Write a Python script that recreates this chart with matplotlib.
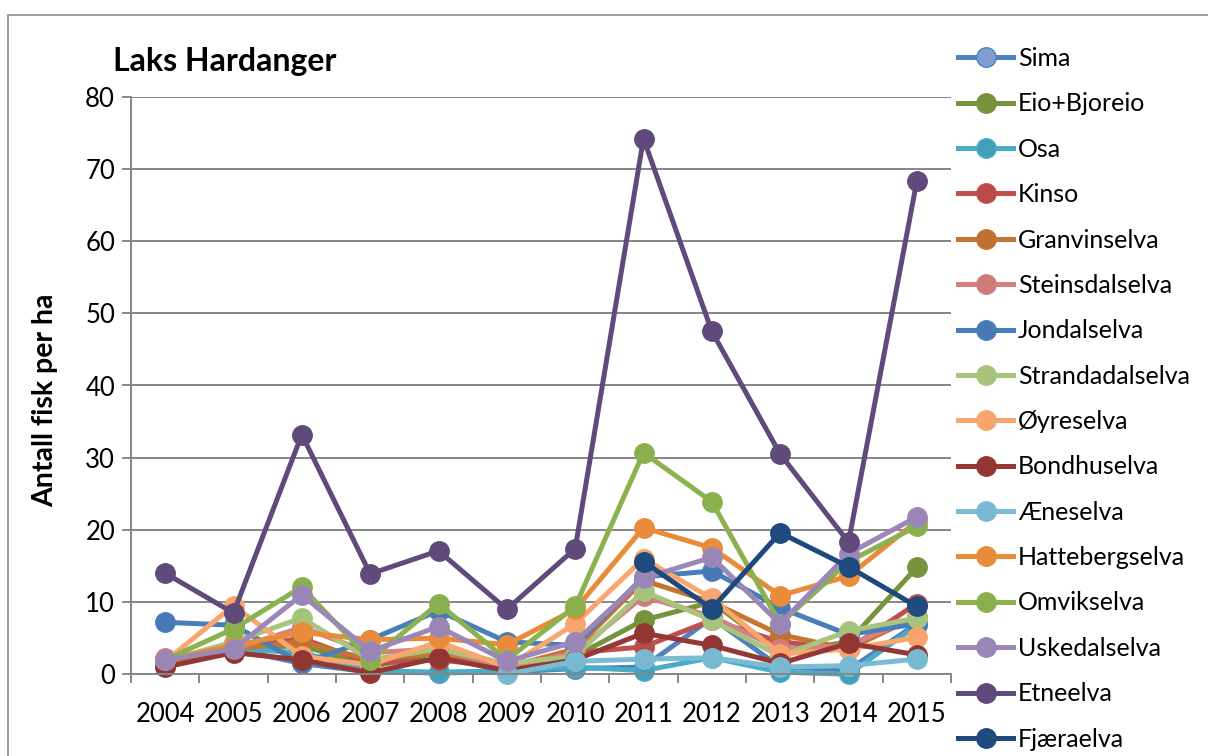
import numpy as np
import matplotlib.pyplot as plt
from matplotlib.patches import Rectangle

plt.rcParams['font.family'] = ['Lato', 'DejaVu Sans']

years = ['2004', '2005', '2006', '2007', '2008', '2009', '2010', '2011', '2012', '2013', '2014', '2015']
nan = np.nan

# Antall fisk per ha, lest av figuren
sima = [2.0, 3.5, 1.5, 0.3, 0.2, 0.3, 0.8, 1.0, 7.8, 1.0, 0.6, 7.0]
eio = [1.5, 3.5, 4.0, 1.0, 3.0, 1.0, 2.5, 7.5, 10.0, 3.0, 4.5, 14.8]
osa = [1.5, 3.5, 3.0, 0.5, 0.3, 0.5, 1.0, 0.5, 2.3, 0.3, 0.0, 6.8]
kinso = [1.2, 3.5, 5.0, 1.5, 2.0, 1.0, 3.0, 3.8, 7.5, 4.5, 3.5, 9.8]
granvin = [1.5, 3.5, 4.5, 2.0, 3.0, 1.0, 3.5, 13.0, 10.0, 5.5, 3.5, 8.0]
steinsdal = [2.3, 3.5, 6.5, 3.0, 3.5, 1.0, 3.0, 10.8, 8.0, 3.5, 4.0, 8.0]
jondal = [7.2, 6.8, 1.5, 4.8, 8.8, 4.5, 4.0, 13.5, 14.3, 9.2, 5.5, 7.0]
strandadal = [1.8, 4.5, 7.8, 2.0, 3.5, 1.5, 2.5, 11.5, 7.5, 2.5, 6.0, 7.8]
oyre = [1.8, 9.5, 2.5, 1.3, 4.5, 1.0, 7.0, 16.0, 10.5, 2.8, 3.5, 5.1]
bondhus = [1.0, 3.0, 2.0, 0.2, 2.3, 0.5, 2.0, 5.7, 4.0, 1.5, 4.3, 2.7]
aene = [nan, nan, nan, nan, nan, 0.0, 1.8, 2.1, 2.3, 1.0, 1.2, 2.1]
hatteberg = [2.0, 4.0, 5.8, 4.8, 5.0, 4.1, 9.0, 20.3, 17.5, 10.9, 13.6, 21.2]
omvik = [2.0, 6.3, 12.1, 2.0, 9.8, 2.0, 9.4, 30.7, 23.9, 7.0, 15.6, 20.5]
usked = [2.0, 3.5, 11.0, 3.2, 6.6, 1.8, 4.5, 13.3, 16.2, 7.0, 16.7, 21.8]
etne = [14.0, 8.5, 33.2, 13.9, 17.1, 9.0, 17.4, 74.2, 47.5, 30.5, 18.3, 68.3]
fjaera = [nan, nan, nan, nan, nan, nan, nan, 15.6, 9.1, 19.6, 14.9, 9.4]

serier = [
    ('Sima', sima, '#4F81BD', '#7F9FD0'),
    ('Eio+Bjoreio', eio, '#77933C', '#77933C'),
    ('Osa', osa, '#4BACC6', '#41A0B9'),
    ('Kinso', kinso, '#C0504D', '#B84A47'),
    ('Granvinselva', granvin, '#C47531', '#C07030'),
    ('Steinsdalselva', steinsdal, '#D48180', '#CF7B7A'),
    ('Jondalselva', jondal, '#4A7EBB', '#4679B5'),
    ('Strandadalselva', strandadal, '#A9C47F', '#A6C37C'),
    ('Øyreselva', oyre, '#F9A66F', '#F8A46D'),
    ('Bondhuselva', bondhus, '#953735', '#923634'),
    ('Æneselva', aene, '#7BBBD3', '#78B9D1'),
    ('Hattebergselva', hatteberg, '#E98C3A', '#E88B3A'),
    ('Omvikselva', omvik, '#8CB24F', '#8AB04D'),
    ('Uskedalselva', usked, '#9C88B8', '#9A86B6'),
    ('Etneelva', etne, '#604A7B', '#5F4A7B'),
    ('Fjæraelva', fjaera, '#1F497D', '#204B80'),
]

fig = plt.figure(figsize=(12.08, 7.56), dpi=100)
ax = fig.add_axes([131 / 1208, 1 - 674.3 / 756, 820 / 1208, 577.6 / 756])

x = np.arange(len(years))
for navn, verdier, farge, markfarge in serier:
    ax.plot(x, verdier, '-o', color=farge, lw=3.6, markersize=14,
            markerfacecolor=markfarge, markeredgecolor=farge, markeredgewidth=1,
            label=navn, clip_on=False)

ax.set_ylim(0, 80)
ax.set_xlim(-0.5, len(years) - 0.5)
ax.set_yticks(range(0, 81, 10))
ax.set_xticks(x)
ax.set_xticklabels(years)
ax.set_xticks(np.arange(-0.5, len(years)), minor=True)
ax.tick_params(axis='x', which='major', length=0, labelsize=18.5, pad=20)
ax.tick_params(axis='x', which='minor', length=6.5, width=1.4, color='#868686')
ax.tick_params(axis='y', length=6.5, width=1.4, color='#868686', labelsize=18.5, pad=5)
ax.grid(axis='y', color='#868686', lw=1.4)
ax.set_axisbelow(True)
for s in ['top', 'right']:
    ax.spines[s].set_visible(False)
for s in ['left', 'bottom']:
    ax.spines[s].set_color('#868686')
    ax.spines[s].set_linewidth(1.4)

fig.text(113 / 1208, 1 - 62 / 756, 'Laks Hardanger', fontsize=23, fontweight='bold', va='center')
fig.text(45 / 1208, 1 - 400 / 756, 'Antall fisk per ha', fontsize=20.5, fontweight='bold',
         rotation=90, va='center', ha='center')

fig.legend(loc='upper left', bbox_to_anchor=(958 / 1208, 1 - 47 / 756), frameon=False,
           fontsize=18, handlelength=2.2, handletextpad=0.2, labelspacing=0.895,
           borderaxespad=0, borderpad=0)

fig.patches.append(Rectangle((8 / 1208, -0.1), 1.2, 1.1 - 15 / 756, transform=fig.transFigure,
                             fill=False, edgecolor='#8c8c8c', lw=1.2))

fig.savefig('out.png', dpi=100)
